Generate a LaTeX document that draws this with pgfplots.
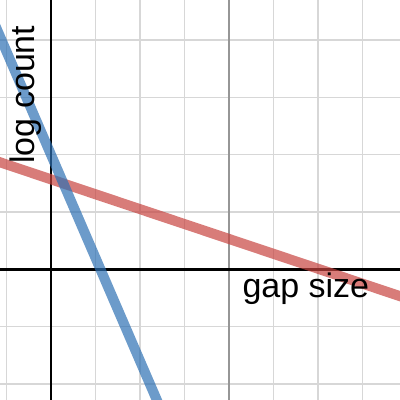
\documentclass[border=0pt]{standalone}
\usepackage{pgfplots}
\pgfplotsset{compat=1.18}
\usepackage{fontspec}
\setmainfont{Liberation Sans}
\definecolor{dblue}{RGB}{45,112,179}
\definecolor{dred}{RGB}{199,68,64}
\begin{document}
\begin{tikzpicture}
\begin{axis}[name=ax,
  scale only axis, width=400bp, height=400bp,
  xmin=-1.146, xmax=7.843, ymin=-2.281, ymax=4.70,
  xtick={-1,0,...,7}, ytick={-2,-1,...,4},
  xticklabels={}, yticklabels={},
  xticklabel style={overlay}, yticklabel style={overlay},
  major tick length=0pt,
  axis line style={draw=none},
  grid=major,
  grid style={draw={rgb,255:red,215;green,215;blue,215}, line width=1.4bp},
  extra x ticks={4}, extra x tick labels={},
  extra x tick style={grid style={draw={rgb,255:red,150;green,150;blue,150}, line width=1.5bp}},
  clip=true,
]
\draw[black, line width=2.7bp] (axis cs:0,-2.281) -- (axis cs:0,4.70);
\draw[black, line width=2.7bp] (axis cs:-1.146,0) -- (axis cs:7.843,0);
\addplot[draw=dred, draw opacity=0.7, line width=10bp] coordinates {(-1.5,1.96) (8.2,-0.562)};
\addplot[draw=dblue, draw opacity=0.7, line width=10bp] coordinates {(-1.5,4.7) (2.6,-2.68)};
\node[anchor=base west, inner sep=0pt, font=\fontsize{34bp}{40bp}\selectfont] at (axis cs:4.3,-0.50) {gap size};
\node[anchor=base west, inner sep=0pt, rotate=90, font=\fontsize{34bp}{40bp}\selectfont] at (axis cs:-0.36,1.84) {log count};
\end{axis}
\pgfresetboundingbox
\path (ax.south west) rectangle (ax.north east);
\end{tikzpicture}
\end{document}
